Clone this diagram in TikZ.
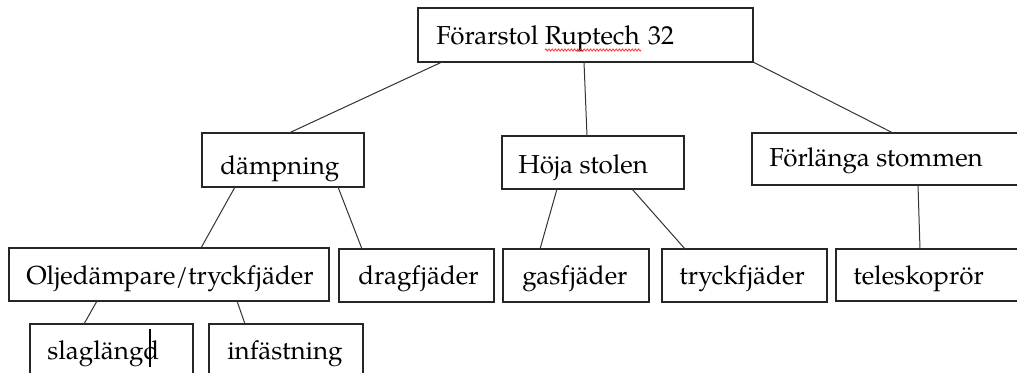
\documentclass[tikz,border=0pt]{standalone}
\usepackage{fontspec}
\setmainfont{texgyrepagella}[Extension=.otf, UprightFont=*-regular, BoldFont=*-bold, ItalicFont=*-italic, BoldItalicFont=*-bolditalic]
\usetikzlibrary{calc,decorations.pathmorphing}
\begin{document}
\begin{tikzpicture}[x=0.75pt,y=-0.75pt,
  box/.style={draw=black!85, line width=0.9pt, rectangle, inner sep=0pt, outer sep=0pt, anchor=north west},
  lbl/.style={font=\fontsize{19.5pt}{23pt}\selectfont, inner sep=0pt, anchor=base west, text=black},
  link/.style={draw=black!80, line width=0.75pt}]
\clip (0,0) rectangle (1017,373);
\fill[white] (0,0) rectangle (1017,373);
% boxes
\node[box, minimum width=0.75pt*335, minimum height=0.75pt*54] (top) at (418,8) {};
\node[box, minimum width=0.75pt*162, minimum height=0.75pt*54] (damp) at (202,133) {};
\node[box, minimum width=0.75pt*182, minimum height=0.75pt*53] (hoja) at (502,136) {};
\node[box, minimum width=0.75pt*290, minimum height=0.75pt*52] (forl) at (752,133) {};
\node[box, minimum width=0.75pt*320, minimum height=0.75pt*53] (olje) at (9,248) {};
\node[box, minimum width=0.75pt*155, minimum height=0.75pt*53] (drag) at (339,249) {};
\node[box, minimum width=0.75pt*146, minimum height=0.75pt*53] (gas) at (503,249) {};
\node[box, minimum width=0.75pt*165, minimum height=0.75pt*53] (tryck) at (662,249) {};
\node[box, minimum width=0.75pt*200, minimum height=0.75pt*52] (tele) at (836,249) {};
\node[box, minimum width=0.75pt*163, minimum height=0.75pt*60] (slag) at (30,324) {};
\node[box, minimum width=0.75pt*154, minimum height=0.75pt*60] (infa) at (209,324) {};
% texts
\node[lbl] (topT) at (436,45) {Förarstol Ruptech\hspace{0.33em}32};
\node[lbl] (dampT) at (220,175) {dämpning};
\node[lbl] (hojaT) at (518,174) {Höja stolen};
\node[lbl] (forlT) at (769,167) {Förlänga stommen};
\node[lbl] (oljeT) at (26,285) {Oljedämpare/tryckfjäder};
\node[lbl] (dragT) at (358,285) {dragfjäder};
\node[lbl] (gasT) at (522,285) {gasfjäder};
\node[lbl] (tryckT) at (679,285) {tryckfjäder};
\node[lbl] (teleT) at (853,285) {teleskoprör};
\node[lbl] (slagT) at (47,360) {slaglängd};
\node[lbl] (infaT) at (227,360) {infästning};
% spell-check squiggle and cursor
\coordinate (sq1) at (545,50);
\coordinate (sq2) at (641,50);
\draw[red!80, line width=0.6pt, decorate, decoration={zigzag, amplitude=0.8pt, segment length=2.4pt}] (sq1) -- (sq2);
\coordinate (cur1) at (150,329);
\coordinate (cur2) at (150,367);
\draw[black, line width=1.8pt] (cur1) -- (cur2);
% connectors
\draw[link] ($(top.south west)+(24,0)$) -- ($(damp.north west)+(87,0)$);
\draw[link] ($(top.south west)+(166,0)$) -- ($(hoja.north west)+(85,0)$);
\draw[link] (top.south east) -- ($(forl.north west)+(141,0)$);
\draw[link] ($(damp.south west)+(33,0)$) -- ($(olje.north west)+(192,0)$);
\draw[link] ($(damp.south west)+(136,0)$) -- ($(drag.north west)+(23,0)$);
\draw[link] ($(hoja.south west)+(55,0)$) -- ($(gas.north west)+(37,0)$);
\draw[link] ($(hoja.south west)+(130,0)$) -- ($(tryck.north west)+(23,0)$);
\draw[link] ($(forl.south west)+(166,0)$) -- ($(tele.north west)+(84,0)$);
\draw[link] ($(olje.south west)+(88,0)$) -- ($(slag.north west)+(54,0)$);
\draw[link] ($(olje.south west)+(228,0)$) -- ($(infa.north west)+(36,0)$);
\end{tikzpicture}
\end{document}
